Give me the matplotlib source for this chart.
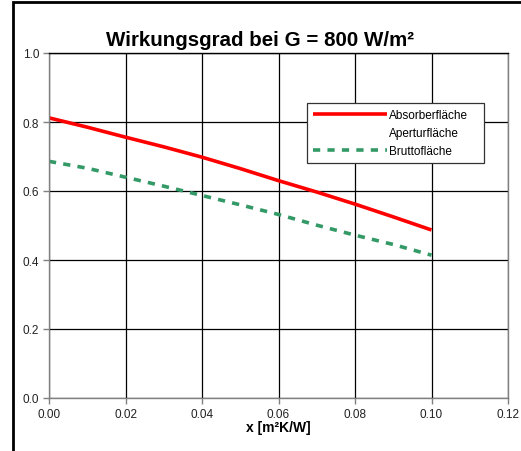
import numpy as np
import matplotlib.pyplot as plt
from matplotlib.patches import Rectangle

plt.rcParams['font.family'] = ['Liberation Sans', 'DejaVu Sans']

# values
x = [0.00, 0.01, 0.02, 0.03, 0.04, 0.05, 0.06, 0.07, 0.08, 0.09, 0.10]
absorber = [0.812, 0.785, 0.756, 0.728, 0.698, 0.665, 0.630, 0.597, 0.562, 0.525, 0.487]
brutto = [0.686, 0.666, 0.640, 0.614, 0.587, 0.560, 0.532, 0.501, 0.472, 0.445, 0.414]
xticks = [0.00, 0.02, 0.04, 0.06, 0.08, 0.10, 0.12]
yticks = [0.0, 0.2, 0.4, 0.6, 0.8, 1.0]

fig = plt.figure(figsize=(5.21, 4.52), dpi=100)
ax = fig.add_axes([49/521, 1-399/452, 459/521, 345/452])

ax.plot(x, absorber, color='#FF0000', lw=2.6, label='Absorberfläche', solid_capstyle='butt')
ax.plot([], [], color='none', label='Aperturfläche')
ax.plot(x, brutto, color='#339966', lw=2.6, linestyle=(0, (2.0, 2.0)), label='Bruttofläche')

ax.set_xlim(0, 0.12)
ax.set_ylim(0, 1.0)
ax.set_xticks(xticks)
ax.set_yticks(yticks)
ax.set_xticklabels(['%.2f' % t for t in xticks])
ax.set_yticklabels(['%.1f' % t for t in yticks])
ax.tick_params(labelsize=8.5, color='#808080', length=4, width=1, pad=3, labelcolor='#222222')

ax.grid(color='black', linewidth=0.9)
ax.set_axisbelow(True)
for s in ax.spines.values():
    s.set_color('#808080')
    s.set_linewidth(1)
ax.spines['top'].set_color('black')

# title is centred on the whole figure, not on the axes
fig.text(0.5, 1 - 40/452, 'Wirkungsgrad bei G = 800 W/m²', fontsize=14.8,
         fontweight='bold', ha='center', va='center')
ax.set_xlabel('x [m²K/W]', fontsize=10, fontweight='bold', labelpad=0)

leg = ax.legend(loc='upper left', bbox_to_anchor=(0.562, 0.684, 0.386, 0.171), mode='expand',
                fontsize=8.5, frameon=True, fancybox=False, framealpha=1,
                handlelength=6.3, handletextpad=0.15, labelspacing=0.5,
                borderpad=0.5, borderaxespad=0)
leg.get_frame().set_edgecolor('#333333')
leg.get_frame().set_linewidth(0.9)

# outer frame of the original export
fig.patches.append(Rectangle((13/521, -0.1), 1.2, 1.1 - 3/452, transform=fig.transFigure,
                             fill=False, edgecolor='black', linewidth=2))

fig.savefig('out.png', dpi=100)
